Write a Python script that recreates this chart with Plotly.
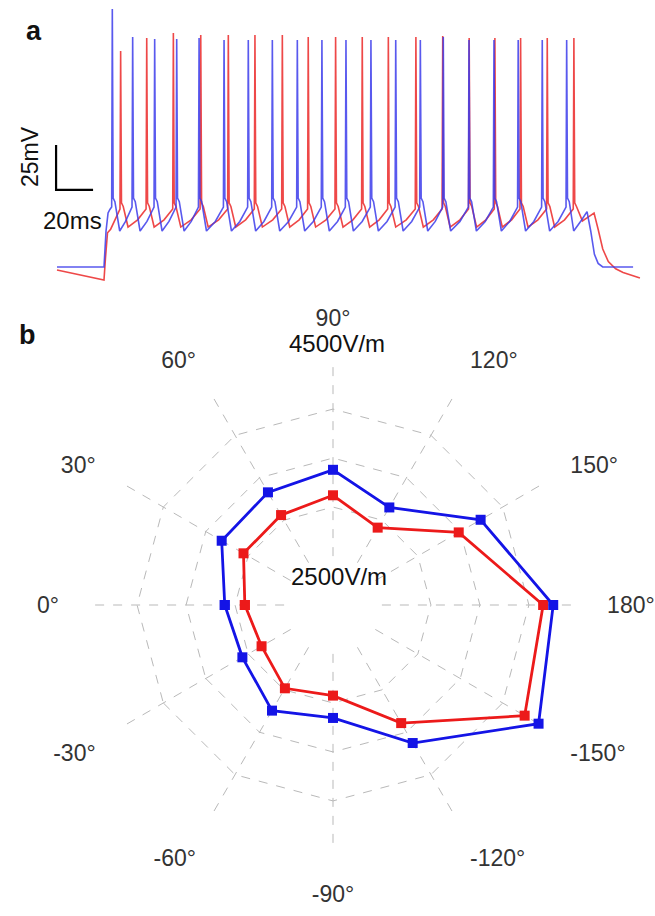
import plotly.graph_objects as go

# ---------------- panel a: membrane potential traces (ms, mV) ----------------
blue_spike_t = [29.9, 40.9, 52.8, 64.7, 76.8, 90.3, 103.4, 116.4, 129.9, 143.2,
                156.2, 169.7, 183.1, 196.4, 208.8, 222.7, 236.2, 249.3, 262.3, 275.5]
blue_spike_v = [78.3, 62.8, 61.7, 61.7, 62.2, 61.1, 61.1, 61.1, 61.1, 61.1,
                61.1, 61.1, 61.1, 61.1, 62.8, 61.1, 61.1, 61.1, 61.1, 61.1]
red_spike_t = [34.4, 48.5, 62.9, 77.7, 92.6, 107.0, 121.8, 135.8, 150.6, 165.0,
               179.1, 194.0, 208.5, 222.8, 236.7, 250.6, 265.0, 279.4]
red_spike_v = [55.0, 62.2, 65.0, 63.9, 63.9, 63.9, 63.9, 62.8, 62.8, 62.8,
               62.8, 62.8, 63.3, 62.2, 62.2, 62.2, 62.2, 62.2]

# threshold, post-spike shoulder, after-hyperpolarisation trough (mV)
blue_levels = [-31.7, -26.7, -45.0]
red_levels = [-32.8, -29.4, -42.8]

blue_onset_t = [0.0, 25.4, 26.5, 27.6, 28.6]
blue_onset_v = [-65.0, -65.0, -45.0, -35.0, -33.0]
red_onset_t = [0.0, 25.4, 26.2, 27.3, 29.0, 33.8]
red_onset_v = [-66.7, -72.2, -60.0, -46.0, -44.0, -33.5]

blue_offset_t = [279.3, 283.5, 286.5, 288.5, 290.5, 292.5, 295.0, 311.4]
blue_offset_v = [-45.0, -39.0, -34.2, -45.0, -58.0, -63.0, -65.0, -65.0]
red_offset_t = [284.0, 287.5, 290.3, 292.5, 295.0, 298.0, 302.0, 306.0, 315.1]
red_offset_v = [-39.4, -37.0, -35.0, -44.0, -55.0, -62.0, -66.0, -68.0, -71.1]

# scale bar: 20 ms x 25 mV
bar_t0, bar_v0, bar_ms, bar_mv = -0.5, -22.2, 20.0, 25.0

# ---------------- panel b: threshold field vs direction ----------------
theta_labels = ["0°", "30°", "60°", "90°", "120°", "150°", "180°",
                "-150°", "-120°", "-90°", "-60°", "-30°"]
blue_r = [3105, 3312, 3328, 3380, 3150, 3740, 4248, 4423, 3627, 3153, 3245, 3068]
red_r = [2900, 3055, 3060, 3120, 2912, 3482, 4145, 4259, 3392, 2925, 2982, 2842]
radial_ticks = [2500, 3000, 3500, 4000, 4500]
radial_origin = 2000          # value at the centre of the plot
radial_labels = ["2500V/m", "4500V/m"]

W, H = 655, 916
BLUE_A = "rgba(60,60,235,0.85)"
RED_A = "rgba(235,40,40,0.85)"
BLUE = "#1414e6"
RED = "#ec1a1a"
GRID = "#b9b9b9"
FONT = "Liberation Sans, Arial, sans-serif"


def build(on_t, on_v, sp_t, sp_v, levels, off_t, off_v):
    thr, sh, tr = levels
    T, V = list(on_t), list(on_v)
    n = len(sp_t)
    for i, (t, p) in enumerate(zip(sp_t, sp_v)):
        T += [t - 0.35, t, t + 0.45, t + 1.4]
        V += [thr, p, sh, sh - 2]
        if i < n - 1:
            isi = sp_t[i + 1] - t
            T += [t + 4.0, t + 0.65 * isi]
            V += [tr, tr + 0.4 * (thr - tr)]
    T += list(off_t)
    V += list(off_v)
    return T, V


fig = go.Figure()

rt, rv = build(red_onset_t, red_onset_v, red_spike_t, red_spike_v, red_levels,
               red_offset_t, red_offset_v)
bt, bv = build(blue_onset_t, blue_onset_v, blue_spike_t, blue_spike_v, blue_levels,
               blue_offset_t, blue_offset_v)
fig.add_trace(go.Scatter(x=rt, y=rv, mode="lines", line=dict(color=RED_A, width=1.6),
                         showlegend=False, hoverinfo="skip"))
fig.add_trace(go.Scatter(x=bt, y=bv, mode="lines", line=dict(color=BLUE_A, width=1.6),
                         showlegend=False, hoverinfo="skip"))
fig.add_trace(go.Scatter(x=[bar_t0, bar_t0, bar_t0 + bar_ms],
                         y=[bar_v0 + bar_mv, bar_v0, bar_v0],
                         mode="lines", line=dict(color="black", width=2.2),
                         showlegend=False, hoverinfo="skip"))

# polar (categorical angular axis -> polygonal grid)
fig.add_trace(go.Scatterpolar(r=red_r + red_r[:1], theta=theta_labels + theta_labels[:1],
                              mode="lines+markers", line=dict(color=RED, width=2.8),
                              marker=dict(symbol="square", size=10, color=RED),
                              showlegend=False, hoverinfo="skip"))
fig.add_trace(go.Scatterpolar(r=blue_r + blue_r[:1], theta=theta_labels + theta_labels[:1],
                              mode="lines+markers", line=dict(color=BLUE, width=2.8),
                              marker=dict(symbol="square", size=10, color=BLUE),
                              showlegend=False, hoverinfo="skip"))

# pixel -> axis helpers (layout)
px_per_ms = 37 / 20
px_per_mv = 45 / 25
t0_px, v0_px, v0 = 57, 267, -65.0
xr = [(0 - t0_px) / px_per_ms, (W - t0_px) / px_per_ms]
top_px = 0
bot_px = 300
yr = [v0 - (bot_px - v0_px) / px_per_mv, v0 + (v0_px - top_px) / px_per_mv]

cx, cy, R = 333, 605, 245
r_lo, r_hi = radial_ticks[0] - 1, radial_ticks[-1] + 1
hole = (r_lo - radial_origin) / (r_hi - radial_origin)


def ring_top_px(val):
    return cy - R * (val - radial_origin) / (r_hi - radial_origin)


fig.update_layout(
    width=W, height=H,
    margin=dict(l=0, r=0, t=0, b=0),
    paper_bgcolor="white", plot_bgcolor="white",
    font=dict(family=FONT, color="#222"),
    xaxis=dict(domain=[0, 1], range=xr, visible=False, fixedrange=True),
    yaxis=dict(domain=[1 - bot_px / H, 1 - top_px / H], range=yr, visible=False, fixedrange=True),
    polar=dict(
        domain=dict(x=[(cx - R) / W, (cx + R) / W], y=[1 - (cy + R) / H, 1 - (cy - R) / H]),
        bgcolor="rgba(0,0,0,0)",
        hole=hole,
        gridshape="linear",
        radialaxis=dict(range=[r_lo, r_hi], tickmode="array",
                        tickvals=radial_ticks, showticklabels=False, ticks="",
                        showline=False, gridcolor=GRID, griddash="dash", gridwidth=1.4),
        angularaxis=dict(type="category", categoryorder="array", categoryarray=theta_labels,
                         rotation=180, direction="clockwise", ticks="outside",
                         ticklen=24, tickcolor="rgba(0,0,0,0)", showline=False,
                         gridcolor=GRID, griddash="dash", gridwidth=1.4,
                         tickfont=dict(size=23, color="#333", family=FONT)),
    ),
    annotations=[
        dict(text="<b>a</b>", x=34 / W, y=1 - 31 / H, xref="paper", yref="paper",
             xanchor="center", yanchor="middle",
             showarrow=False, font=dict(size=27, color="#111")),
        dict(text="<b>b</b>", x=27 / W, y=1 - 335 / H, xref="paper", yref="paper",
             xanchor="center", yanchor="middle",
             showarrow=False, font=dict(size=27, color="#111")),
        dict(text="25mV", x=30 / W, y=1 - 157 / H, xref="paper", yref="paper",
             xanchor="center", yanchor="middle",
             textangle=-90, showarrow=False, font=dict(size=23, color="#111")),
        dict(text="20ms", x=72 / W, y=1 - 220 / H, xref="paper", yref="paper",
             xanchor="center", yanchor="middle",
             showarrow=False, font=dict(size=24, color="#111")),
        dict(text=radial_labels[0], x=(cx + 6) / W, y=1 - ring_top_px(radial_ticks[0]) / H,
             xref="paper", yref="paper", xanchor="center", yanchor="top", yshift=-5,
             showarrow=False, font=dict(size=24, color="#111")),
        dict(text=radial_labels[1], x=(cx + 4) / W, y=1 - ring_top_px(radial_ticks[-1]) / H,
             xref="paper", yref="paper", xanchor="center", yanchor="bottom", yshift=1,
             showarrow=False, font=dict(size=24, color="#111")),
    ],
)

fig.write_html("out.html")
